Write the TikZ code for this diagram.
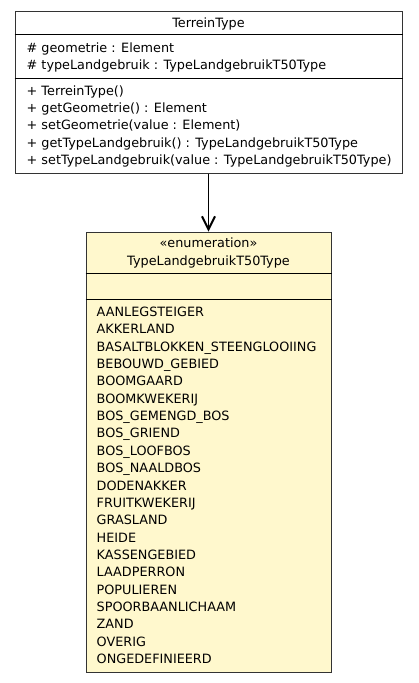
\documentclass[tikz,border=0pt]{standalone}
\usepackage{fontspec}
\setmainfont{DejaVu Sans}
\usepackage{xcolor}
\usetikzlibrary{positioning, arrows.meta}
\definecolor{enumgeel}{HTML}{FFF8CD}

\begin{document}
\begin{tikzpicture}[x=1pt, y=-1pt,
		klasse/.style={draw=black!80, line width=1pt, inner sep=0pt},
		scheiding/.style={draw=black, line width=1.2pt},
		titel/.style={anchor=base, inner sep=0pt, font=\fontsize{12.8}{15}\selectfont},
		regel/.style={anchor=base west, inner sep=0pt, font=\fontsize{12.8}{15}\selectfont},
		pijl/.style={-{Straight Barb[length=13pt, width=13pt, line width=2pt]}, line width=1pt}]
		\useasboundingbox (0,0) rectangle (419,683);

		% klasse TerreinType
		\node[klasse, fill=white, minimum width=387pt, minimum height=162pt] (TerreinType) at (208.5,92) {};
		\draw[scheiding] ([yshift=-24pt]TerreinType.north west) -- ([yshift=-24pt]TerreinType.north east);
		\draw[scheiding] ([yshift=-68pt]TerreinType.north west) -- ([yshift=-68pt]TerreinType.north east);

		\node[titel] (TerreinType titel) at (208.5,27.5) {TerreinType};
		\node[regel] (geometrie) at (26.5,52.3) {\# geometrie : Element};
		\node[regel] (typeLandgebruik) at (26.5,69.7) {\# typeLandgebruik : TypeLandgebruikT50Type};
		\node[regel] (constructor) at (26.5,95) {+ TerreinType()};
		\node[regel] (getGeometrie) at (26.5,112.4) {+ getGeometrie() : Element};
		\node[regel] (setGeometrie) at (26.5,129.8) {+ setGeometrie(value : Element)};
		\node[regel] (getTypeLandgebruik) at (26.5,147.2) {+ getTypeLandgebruik() : TypeLandgebruikT50Type};
		\node[regel] (setTypeLandgebruik) at (26.5,164.6) {+ setTypeLandgebruik(value : TypeLandgebruikT50Type)};

		% enumeratie TypeLandgebruikT50Type
		\node[klasse, fill=enumgeel, minimum width=245pt, minimum height=440pt] (TypeLandgebruik) at (208.5,452) {};
		\draw[scheiding] ([yshift=-42pt]TypeLandgebruik.north west) -- ([yshift=-42pt]TypeLandgebruik.north east);
		\draw[scheiding] ([yshift=-68pt]TypeLandgebruik.north west) -- ([yshift=-68pt]TypeLandgebruik.north east);

		\node[titel] (stereotype) at (208.5,247.3) {«enumeration»};
		\node[titel] (TypeLandgebruik titel) at (208.5,265) {TypeLandgebruikT50Type};

		\foreach \waarde [count=\i from 0] in {AANLEGSTEIGER, AKKERLAND, BASALTBLOKKEN\_STEENGLOOIING,
			BEBOUWD\_GEBIED, BOOMGAARD, BOOMKWEKERIJ, BOS\_GEMENGD\_BOS, BOS\_GRIEND,
			BOS\_LOOFBOS, BOS\_NAALDBOS, DODENAKKER, FRUITKWEKERIJ, GRASLAND, HEIDE,
			KASSENGEBIED, LAADPERRON, POPULIEREN, SPOORBAANLICHAAM, ZAND, OVERIG, ONGEDEFINIEERD}
			\node[regel] (waarde\i) at (96.5,316.5+17.35*\i) {\waarde};

		\draw[pijl] (TerreinType) -- (TypeLandgebruik);
	\end{tikzpicture}
\end{document}
